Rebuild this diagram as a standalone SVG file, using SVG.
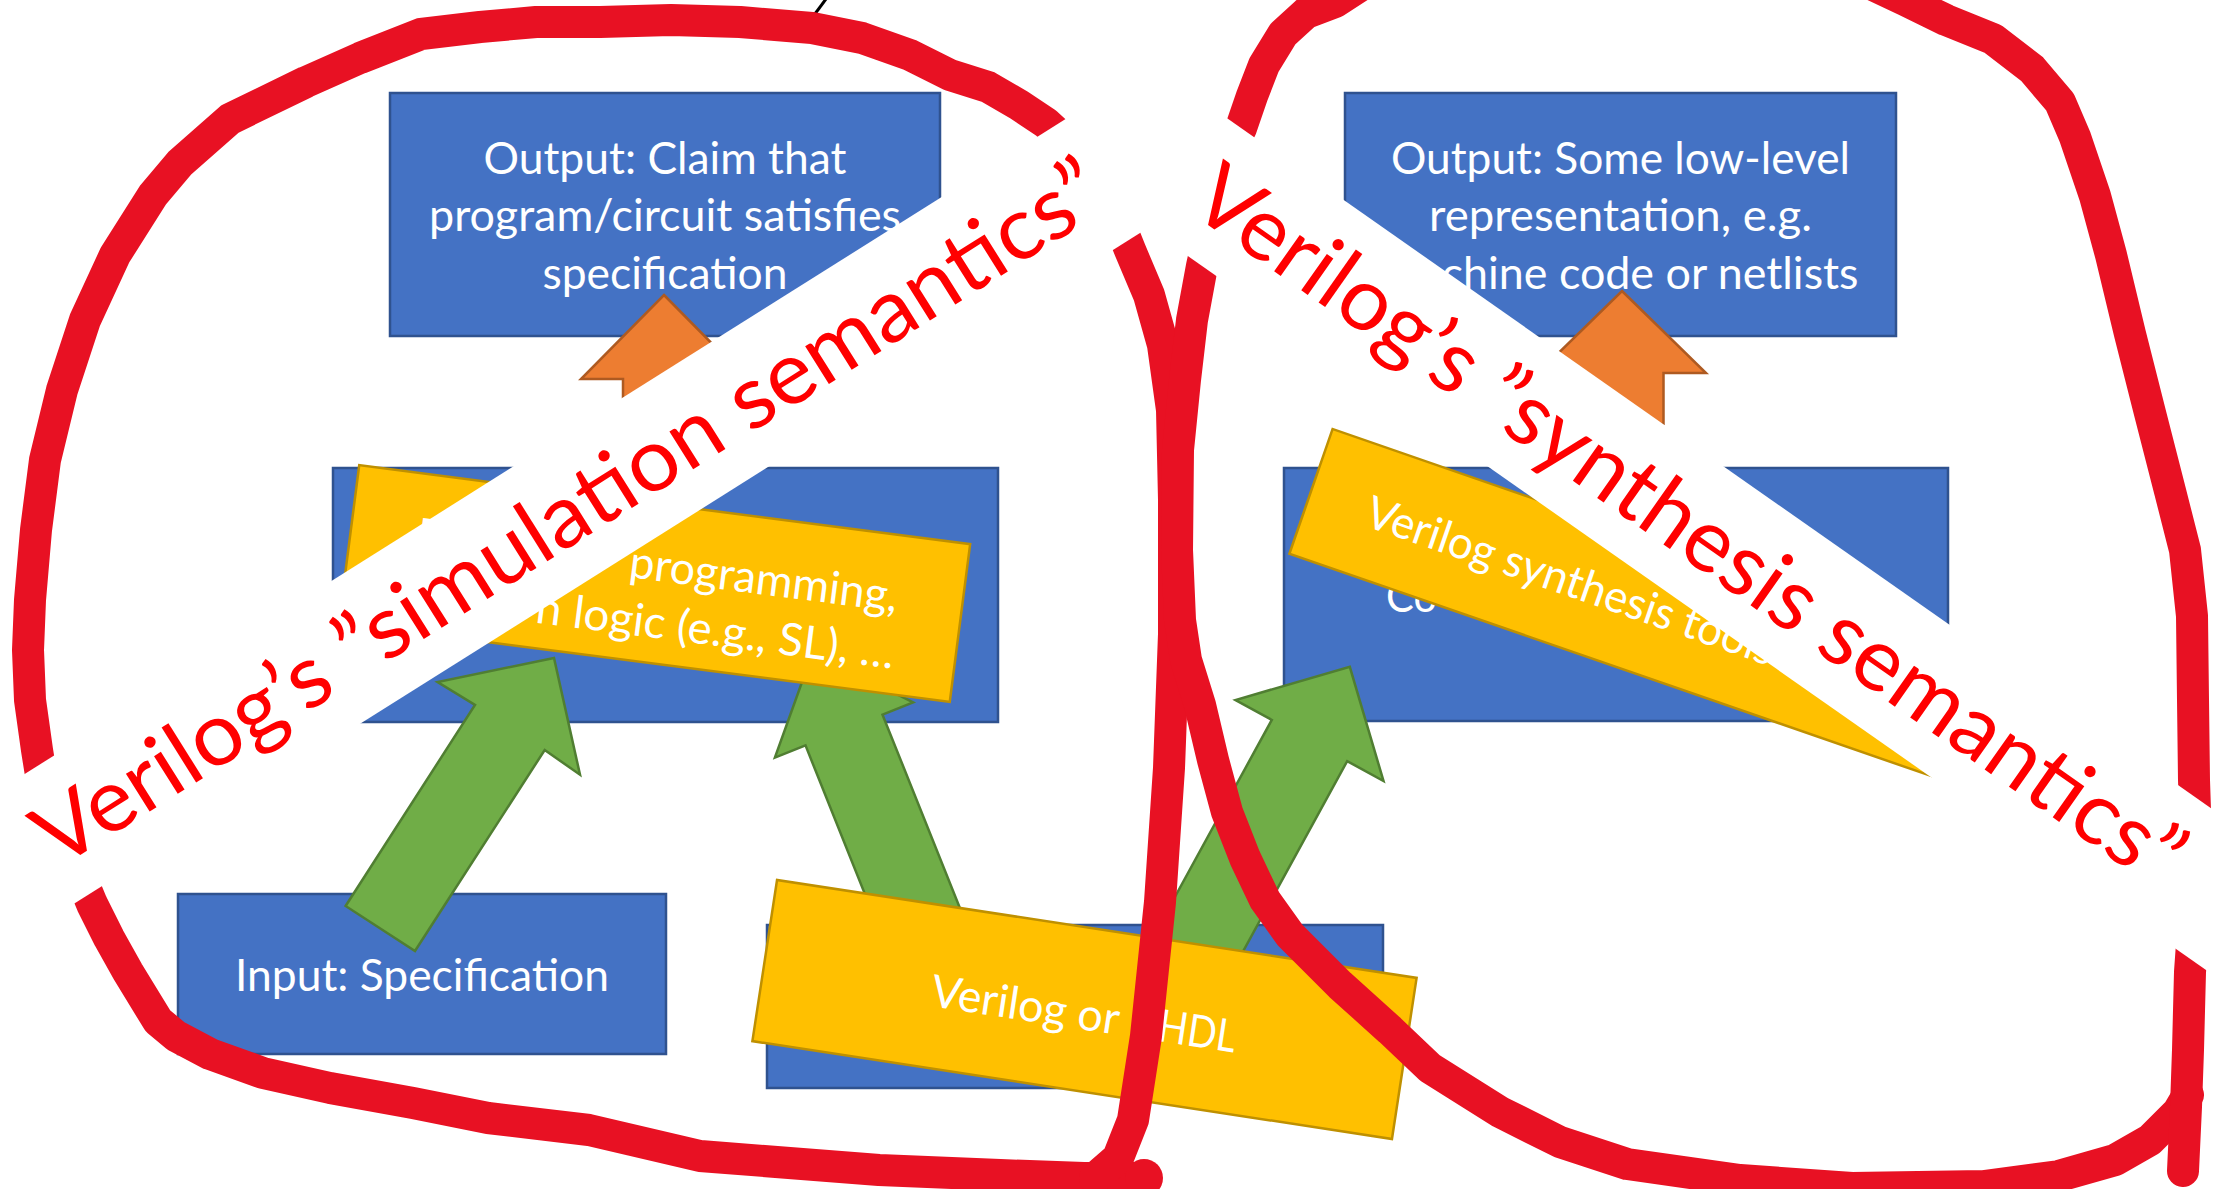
<svg xmlns="http://www.w3.org/2000/svg" width="2216" height="1189" viewBox="0 0 2216 1189">
<style>
.box{fill:#4472C4;stroke:#2F528F;stroke-width:2.5}
.bt{font-family:Lato,"Open Sans","Liberation Sans",sans-serif;font-size:45px;fill:#FFFFFF}
.mid{text-anchor:middle}
.yl{fill:#FFC000;stroke:#BF9000;stroke-width:2.5}
.gr{fill:#70AD47;stroke:#507E32;stroke-width:2.5}
.or{fill:#ED7D31;stroke:#AE5A21;stroke-width:2.5}
.ink{fill:none;stroke:#E81123;stroke-width:32;stroke-linecap:round;stroke-linejoin:round}
.band{fill:#FFFFFF}
.bandtext{font-family:Lato,"Open Sans","Liberation Sans",sans-serif;font-size:88px;fill:#FF0000}
</style>
<rect width="2216" height="1189" fill="#FFFFFF"/>

<g id="output-simulation">
<rect class="box" x="390" y="93" width="550" height="243"/>
<text class="bt mid" x="665" y="174" textLength="363" lengthAdjust="spacingAndGlyphs">Output: Claim that</text>
<text class="bt mid" x="665" y="231" textLength="472" lengthAdjust="spacingAndGlyphs">program/circuit satisfies</text>
<text class="bt mid" x="665" y="289" textLength="245" lengthAdjust="spacingAndGlyphs">specification</text>
</g>
<g id="output-synthesis">
<rect class="box" x="1345" y="93" width="551" height="243"/>
<text class="bt mid" x="1620.5" y="174" textLength="459" lengthAdjust="spacingAndGlyphs">Output: Some low-level</text>
<text class="bt mid" x="1620.5" y="231" textLength="383" lengthAdjust="spacingAndGlyphs">representation, e.g.</text>
<text class="bt mid" x="1620.5" y="289" textLength="476" lengthAdjust="spacingAndGlyphs">machine code or netlists</text>
</g>
<g id="method-simulation">
<rect class="box" x="333" y="468" width="665" height="254"/>
</g>
<g id="method-synthesis">
<rect class="box" x="1284" y="468" width="664" height="253"/>
<text class="bt" x="1386" y="612" textLength="51" lengthAdjust="spacingAndGlyphs">Co</text>
</g>
<g id="input-specification">
<rect class="box" x="178" y="894" width="488" height="160"/>
<text class="bt mid" x="422" y="991" textLength="374" lengthAdjust="spacingAndGlyphs">Input: Specification</text>
</g>
<g id="input-verilog">
<rect class="box" x="767" y="925" width="616" height="163"/>
</g>

<g id="connectors">
<polygon class="or" points="664,295 747,379 705,379 705,430 623,430 623,379 581,379"/>
<polygon class="or" points="1622,291 1706,373 1663.5,373 1663.5,424 1580.5,424 1580.5,373 1538,373"/>
<polygon class="gr" points="345.6,906 475,705 437.6,682 554,658 580,774.7 544.7,750 415,951"/>
<polygon class="gr" points="898.2,977.4 805.5,745.4 774.9,757.6 812.8,652 913.1,702.4 882.5,714.6 975.3,946.6"/>
<polygon class="gr" points="1127.8,983 1271.8,719.9 1235.5,700 1349.8,666.8 1383.5,781 1347.2,761.1 1203.2,1024.2"/>
</g>

<g id="overlay-methods" transform="translate(654.5,583.5) rotate(7.37)">
<rect class="yl" x="-308" y="-79.5" width="616" height="159"/>
<text class="bt" x="-242" y="-3">P</text>
<text class="bt" x="-27" y="-3" textLength="270" lengthAdjust="spacingAndGlyphs">programming,</text>
<text class="bt" x="-114" y="54" textLength="361" lengthAdjust="spacingAndGlyphs">n logic (e.g., SL), …</text>
</g>
<g id="overlay-verilog" transform="translate(1084.5,1009.5) rotate(8.7)">
<rect class="yl" x="-323.5" y="-81.5" width="647" height="163"/>
<text class="bt" y="20"><tspan x="-154" textLength="190" lengthAdjust="spacingAndGlyphs">Verilog or</tspan><tspan x="50" textLength="104" lengthAdjust="spacingAndGlyphs">VHDL</tspan></text>
</g>
<g id="overlay-synthesis" transform="translate(1332.6,429) rotate(19.1)">
<rect class="yl" x="0" y="0" width="690" height="132"/>
<text class="bt" x="60" y="81" textLength="430" lengthAdjust="spacingAndGlyphs">Verilog synthesis tools</text>
</g>

<g id="ink">
<line x1="803" y1="30" x2="826" y2="-1" stroke="#000000" stroke-width="3"/>
<polyline class="ink" points="1070,145 1046,123 1019,105 988,87 950,75 910,55 862,38 812,28 740,22 671,20 600,22 536,22 480,27 421,34 360,58 306,82 230,119 180,163 153,195 115,255 85,320 62,390 45,460 36,530 30,600 28,650 30,700 37,750 45,800"/>
<polyline class="ink" points="80,875 92,904 109,938 128,972 158,1021 176,1036 210,1054 263,1073 330,1088 413,1103 488,1118 589,1130 700,1156 879,1170 1000,1175 1084,1178 1144,1178"/>
<circle cx="1144" cy="1178" r="19" fill="#E81123"/>
<polyline class="ink" points="1120,225 1130,250 1149,295 1163,345 1172,410 1174,500 1174,634 1169,768 1160,902 1146,1036 1133,1120 1118,1158 1095,1178"/>
<polyline class="ink" points="1210,230 1202,266 1192,320 1185,380 1178,450 1177,550 1180,620 1186,660 1200,705 1213,760 1227,812 1245,858 1265,900 1290,935 1340,985 1390,1030 1430,1068 1500,1112 1560,1142 1627,1164 1740,1180 1852,1188 1984,1186 2059,1176 2115,1160 2150,1140 2178,1112 2188,1095"/>
<polyline class="ink" points="2193,930 2190,972 2188,1050 2186,1107 2183,1171"/>
<polyline class="ink" points="1225,160 1241,128 1252,96 1264,65 1283,34 1306,13 1335,2 1400,-40 1820,-40 1905,0 1946,20 1993,39 2032,69 2060,102 2075,137 2095,196 2111,255 2130,334 2150,413 2170,491 2185,550 2192,616 2193,700 2194,780 2196,840"/>
</g>

<g id="label-simulation" transform="translate(57.8,869.3) rotate(-32.18)">
<rect class="band" x="-146" y="-98.3" width="1490" height="136.1"/>
<text class="bandtext" x="0" y="0" textLength="1244" lengthAdjust="spacingAndGlyphs">Verilog’s ”simulation semantics”</text>
</g>
<g id="label-synthesis" transform="translate(1186.5,209.9) rotate(35.04)">
<rect class="band" x="-92" y="-98.4" width="1500" height="135.4"/>
<text class="bandtext" x="0" y="0" textLength="1186" lengthAdjust="spacingAndGlyphs">Verilog’s ”synthesis semantics”</text>
</g>
</svg>
